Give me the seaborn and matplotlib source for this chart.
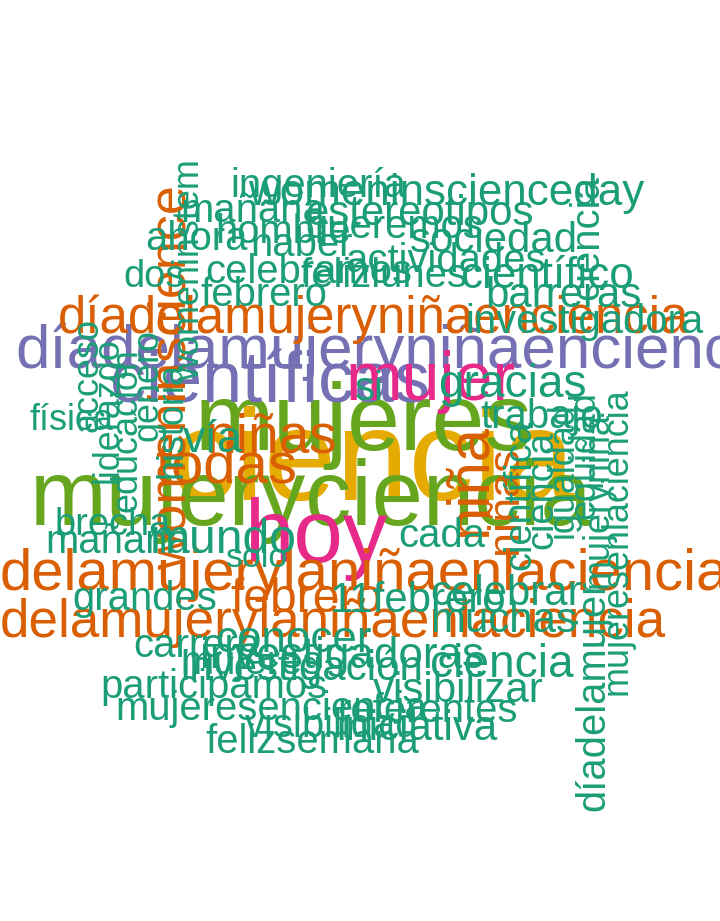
import matplotlib

matplotlib.use("Agg")

import matplotlib.pyplot as plt
import seaborn as sns

# word cloud content: word, size in px (em), palette index, rotation
words = [
    "ciencia", "mujeryciencia", "mujeres", "científicas",
    "díadelamujeryniñaenciencia", "mujer", "hoy",
    "díadelamujeryniñaenciencia", "delamujerylaniñaenlaciencia",
    "delamujerylaniñaenlaciencia", "todas", "niñas", "febrero",
    "womeninscience", "niña", "niñas",
    "ingeniería", "womeninscienceday", "mañana", "estereotipos", "ahora",
    "hombre", "queremos", "sociedad", "haber", "actividades", "celebramos",
    "felizlunes", "científico", "dos", "febrero", "barreras", "investigadora",
    "física", "vía", "si", "gracias", "trabajo", "brecha", "mañana", "mundo",
    "solo", "cada", "grandes", "11febrero", "celebrar", "muchas", "carrera",
    "conocer", "investigadoras", "mujeres", "investigación", "ciencia",
    "participamos", "visibilizar", "mujeresenciencia", "referentes",
    "visibilidad", "iniciativa", "felizsemana",
    "womeninstem", "ciencia", "acceso", "liderazgo", "educación", "género",
    "historia", "científica", "ciencia", "igualdad", "equidad", "mujeryniña",
    "mujeresenlaciencia", "díadelamujer",
]
sizes = [
    130, 92, 95, 72, 62, 68, 89, 51, 58, 53, 58, 55, 48,
    52, 60, 45,
    40, 44, 40, 42, 40, 40, 40, 42, 40, 40, 40, 40, 44, 38, 40, 42, 40,
    36, 45, 40, 46, 40, 38, 40, 48, 34, 40, 40, 42, 42, 42, 40, 44, 44,
    40, 42, 46, 40, 42, 40, 40, 40, 42, 40,
    36, 40, 36, 36, 36, 36, 36, 38, 38, 36, 36, 36, 36, 40,
]
colors = [5, 4, 4, 2, 2, 3, 3, 1, 1, 1, 1, 1, 1, 1, 1, 1] + [0] * 58
rotations = [0] * 13 + [90] * 3 + [0] * 44 + [90] * 14

# layout: horizontal words by left/baseline, vertical words by centre
xs = [
    171, 30, 195, 110, 15, 345, 245, 58, 0, 0, 155, 205, 230,
    172, 470, 505,
    230, 248, 180, 305, 145, 215, 305, 410, 250, 345, 205, 300, 460, 123,
    200, 485, 465, 30, 183, 355, 438, 480, 55, 45, 150, 225, 398, 72, 330,
    430, 430, 133, 215, 200, 180, 180, 430, 100, 373, 115, 337, 245, 336, 205,
    190, 587, 88, 108, 127, 148, 172, 520, 542, 563, 585, 598, 617, 593,
]
ys = [
    500, 525, 450, 402, 368, 400, 562, 333, 590, 637, 482, 452, 612,
    378, 480, 500,
    197, 205, 222, 225, 250, 243, 238, 252, 256, 272, 283, 287, 288, 287,
    306, 307, 333, 430, 452, 400, 397, 428, 535, 553, 553, 567, 547, 610, 612,
    605, 632, 657, 652, 668, 674, 680, 677, 698, 702, 720, 722, 737, 740, 753,
    270, 238, 375, 410, 430, 385, 420, 495, 490, 470, 455, 500, 541, 695,
]

palette = sns.color_palette("Dark2", 6)

sns.set_style("white")
plt.rcParams["font.family"] = ["Liberation Sans", "DejaVu Sans"]

fig = plt.figure(figsize=(7.2, 9.21), dpi=100)
ax = fig.add_axes([0, 0, 1, 1])
ax.set_xlim(0, 720)
ax.set_ylim(921, 0)
ax.axis("off")

for w, s, c, r, x, y in zip(words, sizes, colors, rotations, xs, ys):
    if r == 0:
        ax.text(x, y, w, fontsize=s * 0.72, color=palette[c],
                ha="left", va="baseline")
    else:
        ax.text(x, y, w, fontsize=s * 0.72, color=palette[c],
                ha="center", va="center", rotation=r)

fig.savefig("out.png", dpi=100, facecolor="white")
